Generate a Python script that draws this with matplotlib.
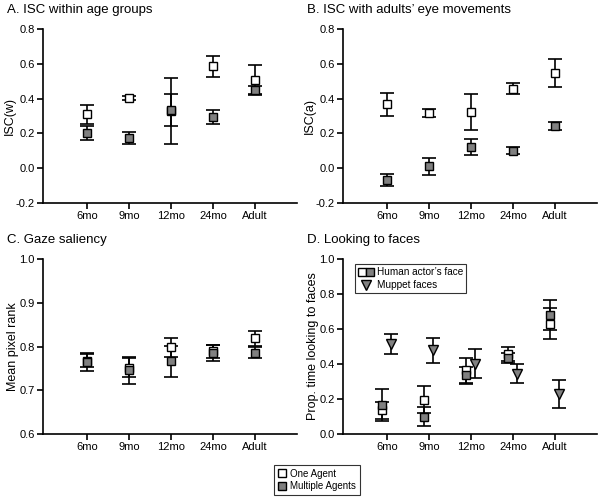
import numpy as np
import matplotlib
matplotlib.use("Agg")
import matplotlib.pyplot as plt
from matplotlib.lines import Line2D
from matplotlib.legend_handler import HandlerTuple

plt.rcParams['font.family'] = ['Liberation Sans', 'DejaVu Sans']

ages = ["6mo", "9mo", "12mo", "24mo", "Adult"]

# A. ISC within age groups
isc_w_one = [0.309, 0.404, 0.330, 0.585, 0.509]
isc_w_one_err = [0.053, 0.012, 0.190, 0.059, 0.085]
isc_w_multi = [0.200, 0.175, 0.337, 0.295, 0.448]
isc_w_multi_err = [0.040, 0.035, 0.092, 0.042, 0.025]

# B. ISC with adults' eye movements
isc_a_one = [0.368, 0.318, 0.324, 0.457, 0.547]
isc_a_one_err = [0.067, 0.022, 0.103, 0.032, 0.080]
isc_a_multi = [-0.067, 0.010, 0.120, 0.101, 0.242]
isc_a_multi_err = [0.034, 0.047, 0.046, 0.020, 0.025]

# C. Gaze saliency
sal_one = [0.768, 0.752, 0.798, 0.789, 0.819]
sal_one_err = [0.015, 0.022, 0.022, 0.015, 0.017]
sal_multi = [0.765, 0.746, 0.766, 0.786, 0.786]
sal_multi_err = [0.021, 0.031, 0.036, 0.018, 0.012]

# D. Looking to faces
face_one = [0.135, 0.197, 0.363, 0.459, 0.631]
face_one_err = [0.050, 0.075, 0.070, 0.040, 0.090]
face_multi = [0.165, 0.100, 0.335, 0.434, 0.679]
face_multi_err = [0.090, 0.055, 0.050, 0.030, 0.084]
muppet = [0.516, 0.478, 0.402, 0.344, 0.229]
muppet_err = [0.058, 0.071, 0.081, 0.055, 0.078]

grey = "#808080"
x = np.arange(len(ages))

fig = plt.figure(figsize=(6.03, 4.99), dpi=100)
W, H = 603, 499

def make_ax(left, top, right, bottom):
    return fig.add_axes([left / W, 1 - bottom / H, (right - left) / W, (bottom - top) / H])

def style(ax, ylim, yticks, ylabel):
    ax.set_xlim(-1.05, 5.0)
    ax.set_ylim(*ylim)
    ax.set_yticks(yticks)
    ax.set_yticklabels([f"{v:.1f}" for v in yticks])
    ax.set_xticks(x)
    ax.set_xticklabels(ages)
    for s in ["top", "right"]:
        ax.spines[s].set_visible(False)
    for s in ["left", "bottom"]:
        ax.spines[s].set_linewidth(1.2)
    ax.tick_params(direction="out", length=4, width=1.2, labelsize=8, pad=2)
    ax.set_ylabel(ylabel, fontsize=9, labelpad=0)

def pair(ax, xs, one, one_err, multi, multi_err):
    ax.errorbar(xs, one, yerr=one_err, fmt="none", ecolor="black", elinewidth=1.2,
                capsize=5, capthick=1.2, zorder=2)
    ax.errorbar(xs, multi, yerr=multi_err, fmt="none", ecolor="black", elinewidth=1.2,
                capsize=5, capthick=1.2, zorder=2)
    ax.plot(xs, one, "s", ms=6, mfc="white", mec="black", mew=1, zorder=3)
    ax.plot(xs, multi, "s", ms=6, mfc=grey, mec="black", mew=1, zorder=4)

axA = make_ax(43, 29, 297, 203)
pair(axA, x, isc_w_one, isc_w_one_err, isc_w_multi, isc_w_multi_err)
style(axA, (-0.2, 0.8), np.arange(-0.2, 0.81, 0.2), "ISC(w)")

axB = make_ax(343, 29, 597, 203)
pair(axB, x, isc_a_one, isc_a_one_err, isc_a_multi, isc_a_multi_err)
style(axB, (-0.2, 0.8), np.arange(-0.2, 0.81, 0.2), "ISC(a)")

axC = make_ax(43, 259, 297, 434)
pair(axC, x, sal_one, sal_one_err, sal_multi, sal_multi_err)
style(axC, (0.6, 1.0), np.arange(0.6, 1.01, 0.1), "Mean pixel rank")

axD = make_ax(343, 259, 597, 434)
pair(axD, x - 0.13, face_one, face_one_err, face_multi, face_multi_err)
axD.errorbar(x + 0.1, muppet, yerr=muppet_err, fmt="none", ecolor="black", elinewidth=1.2,
             capsize=5, capthick=1.2, zorder=2)
axD.plot(x + 0.1, muppet, "v", ms=7, mfc=grey, mec="black", mew=1, zorder=4)
style(axD, (0.0, 1.0), np.arange(0.0, 1.01, 0.2), "Prop. time looking to faces")

h_white = Line2D([], [], ls="none", marker="s", ms=6, mfc="white", mec="black", mew=1)
h_grey = Line2D([], [], ls="none", marker="s", ms=6, mfc=grey, mec="black", mew=1)
h_tri = Line2D([], [], ls="none", marker="v", ms=7, mfc=grey, mec="black", mew=1)
legD = axD.legend([(h_white, h_grey), h_tri], ["Human actor’s face", "Muppet faces"],
                  handler_map={tuple: HandlerTuple(ndivide=None, pad=0.1)},
                  loc="upper left", bbox_to_anchor=(0.047, 0.97), fontsize=7.2,
                  frameon=True, fancybox=False, edgecolor="black", handlelength=1.6,
                  handletextpad=0.3, borderpad=0.3, labelspacing=0.3, borderaxespad=0)
legD.get_frame().set_linewidth(0.8)

leg = fig.legend([h_white, h_grey], ["One Agent", "Multiple Agents"],
                 loc="center", bbox_to_anchor=(317 / W, 1 - 480 / H), fontsize=7,
                 frameon=True, fancybox=False, edgecolor="black", handlelength=0.8,
                 handletextpad=0.4, borderpad=0.4, labelspacing=0.3)
leg.get_frame().set_linewidth(0.8)

fig.text(7 / W, 1 - 10 / H, "A. ISC within age groups", fontsize=9.5, va="center", ha="left")
fig.text(307 / W, 1 - 10 / H, "B. ISC with adults’ eye movements", fontsize=9.5, va="center", ha="left")
fig.text(7 / W, 1 - 240 / H, "C. Gaze saliency", fontsize=9.5, va="center", ha="left")
fig.text(307 / W, 1 - 240 / H, "D. Looking to faces", fontsize=9.5, va="center", ha="left")

fig.savefig("out.png", dpi=100)
